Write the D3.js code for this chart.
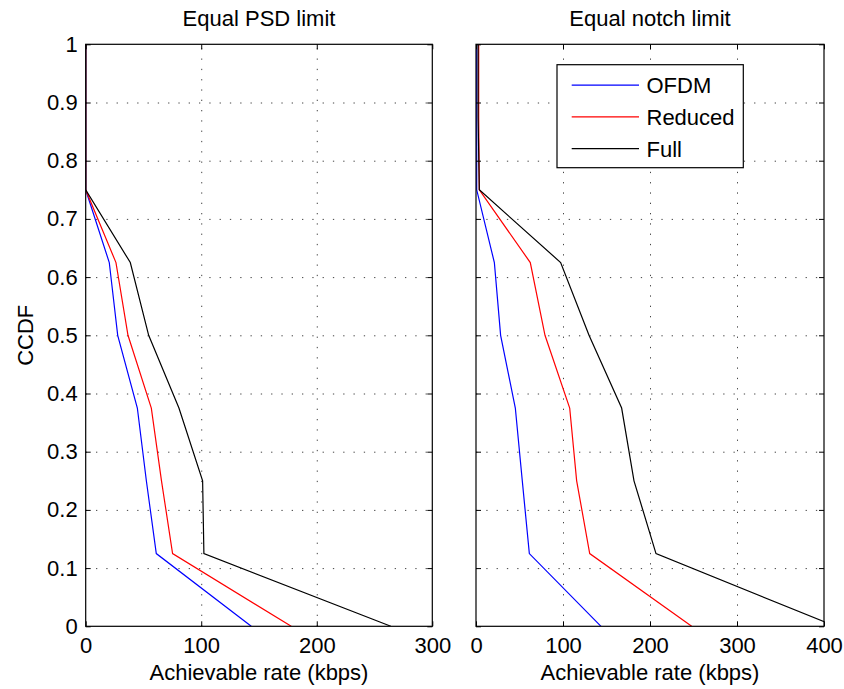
<!DOCTYPE html>
<html>
<head>
<meta charset="utf-8">
<script src="https://cdn.jsdelivr.net/npm/d3@7"></script>
<style>
  body { margin: 0; background: #fff; }
  svg { font-family: "Liberation Sans", Arial, sans-serif; }
  .grid line { stroke: #444; stroke-dasharray: 1.3, 9; }
  .grid .domain { display: none; }
  .axis .domain { display: none; }
  .axis line { stroke: #000; }
  .axis text { font-size: 22px; fill: #000; }
</style>
</head>
<body>
<script>
// CCDF levels (y values shared by every series)
const ccdf = [1, 0.875, 0.75, 0.625, 0.5, 0.375, 0.25, 0.125, 0];

// Equal PSD limit (achievable rate, kbps)
const psdOfdm    = [0, 0, 0, 20.4, 27.7, 44.7, 52.5, 61.1, 143.3];
const psdReduced = [0, 0, 0, 26.2, 36.6, 56.8, 65.6, 75.2, 177.9];
const psdFull    = [0, 0, 0, 38.6, 54.5, 80.7, 101.2, 102.3, 264.1];

// Equal notch limit (achievable rate, kbps)
const notchOfdm    = [0.8, 0.8, 0.8, 21.1, 28.3, 45.2, 53.2, 61.3, 143.7];
const notchReduced = [3.1, 3.1, 3.8, 62.4, 79.3, 107.7, 115.7, 130.7, 247.9];
const notchFull    = [2.4, 2.4, 3.8, 97.3, 129.9, 167.4, 181.6, 206.9, 413];

const seriesNames = ["OFDM", "Reduced", "Full"];
const seriesColors = ["#0000ff", "#ff0000", "#000000"];

const yTicks = [0, 0.1, 0.2, 0.3, 0.4, 0.5, 0.6, 0.7, 0.8, 0.9, 1];
const psdXTicks = [0, 100, 200, 300];
const notchXTicks = [0, 100, 200, 300, 400];

const panels = [
  { title: "Equal PSD limit", left: 85.7, right: 432.3, xMax: 300, xTicks: psdXTicks,
    series: [psdOfdm, psdReduced, psdFull], yLabels: true, legend: false },
  { title: "Equal notch limit", left: 476, right: 824, xMax: 400, xTicks: notchXTicks,
    series: [notchOfdm, notchReduced, notchFull], yLabels: false, legend: true }
];

const plotTop = 44.3, plotBottom = 626.3;
const height = plotBottom - plotTop;

const svg = d3.select("body")
  .append("svg")
  .attr("width", 844)
  .attr("height", 689)

const yScale = d3.scaleLinear()
  .domain([0, 1])
  .range([height, 0]);

panels.forEach((p, pi) => {
  const width = p.right - p.left;
  const xScale = d3.scaleLinear()
    .domain([0, p.xMax])
    .range([0, width]);

  const g = svg.append("g")
    .attr("transform", `translate(${p.left}, ${plotTop})`)

  // dotted grid
  g.append("g")
    .attr("class", "grid")
    .attr("transform", `translate(0, ${height})`)
    .call(d3.axisBottom(xScale).tickValues(p.xTicks.filter(d => d > 0 && d < p.xMax)).tickSize(-height).tickFormat(""))
  g.append("g")
    .attr("class", "grid")
    .call(d3.axisLeft(yScale).tickValues(yTicks.filter(d => d > 0 && d < 1)).tickSize(-width).tickFormat(""))

  // lines
  g.append("clipPath")
    .attr("id", "clip" + pi)
    .append("rect")
    .attr("width", width)
    .attr("height", height)

  const line = d3.line()
    .x(d => xScale(d[0]))
    .y(d => yScale(d[1]))

  g.append("g")
    .attr("clip-path", `url(#clip${pi})`)
    .selectAll("path")
    .data(p.series)
    .enter()
    .append("path")
    .attr("fill", "none")
    .attr("stroke", (d, i) => seriesColors[i])
    .attr("stroke-width", 1.2)
    .attr("d", d => line(d.map((v, i) => [v, ccdf[i]])))

  // axes with inward ticks on all sides
  g.append("g")
    .attr("class", "axis x")
    .attr("transform", `translate(0, ${height})`)
    .call(d3.axisBottom(xScale).tickValues(p.xTicks).tickSizeInner(-5).tickSizeOuter(0).tickPadding(11))
  g.append("g")
    .attr("class", "axis")
    .call(d3.axisTop(xScale).tickValues(p.xTicks).tickSizeInner(-5).tickSizeOuter(0).tickFormat(""))
  g.append("g")
    .attr("class", "axis y")
    .call(d3.axisLeft(yScale).tickValues(yTicks).tickSizeInner(-5).tickSizeOuter(0).tickPadding(8)
      .tickFormat(p.yLabels ? d3.format("~g") : ""))
  g.append("g")
    .attr("class", "axis")
    .attr("transform", `translate(${width}, 0)`)
    .call(d3.axisRight(yScale).tickValues(yTicks).tickSizeInner(-5).tickSizeOuter(0).tickFormat(""))

  g.append("rect")
    .attr("width", width)
    .attr("height", height)
    .attr("fill", "none")
    .attr("stroke", "#000")
    .attr("stroke-width", 1.2)

  // title and x label
  g.append("text")
    .attr("x", width / 2)
    .attr("y", 26 - plotTop)
    .attr("text-anchor", "middle")
    .attr("font-size", 22)
    .text(p.title)

  g.append("text")
    .attr("x", width / 2)
    .attr("y", 680 - plotTop)
    .attr("text-anchor", "middle")
    .attr("font-size", 22)
    .text("Achievable rate (kbps)")

  if (p.yLabels) {
    svg.append("text")
      .attr("transform", `translate(33, ${plotTop + height / 2}) rotate(-90)`)
      .attr("text-anchor", "middle")
      .attr("font-size", 22)
      .text("CCDF")
  }

  if (p.legend) {
    const lg = svg.append("g")
      .attr("transform", "translate(557, 64.7)")
    lg.append("rect")
      .attr("width", 186.3)
      .attr("height", 103)
      .attr("fill", "#fff")
      .attr("stroke", "#000")
      .attr("stroke-width", 1.2)
    const items = lg.selectAll(".item")
      .data(seriesNames)
      .enter()
      .append("g")
      .attr("class", "item")
      .attr("transform", (d, i) => `translate(0, ${20.5 + i * 31.7})`)
    items.append("line")
      .attr("x1", 14.7)
      .attr("x2", 82)
      .attr("stroke", (d, i) => seriesColors[i])
      .attr("stroke-width", 1.2)
    items.append("text")
      .attr("x", 89.5)
      .attr("dy", "0.36em")
      .attr("font-size", 22)
      .text(d => d)
  }
});
</script>
</body>
</html>
